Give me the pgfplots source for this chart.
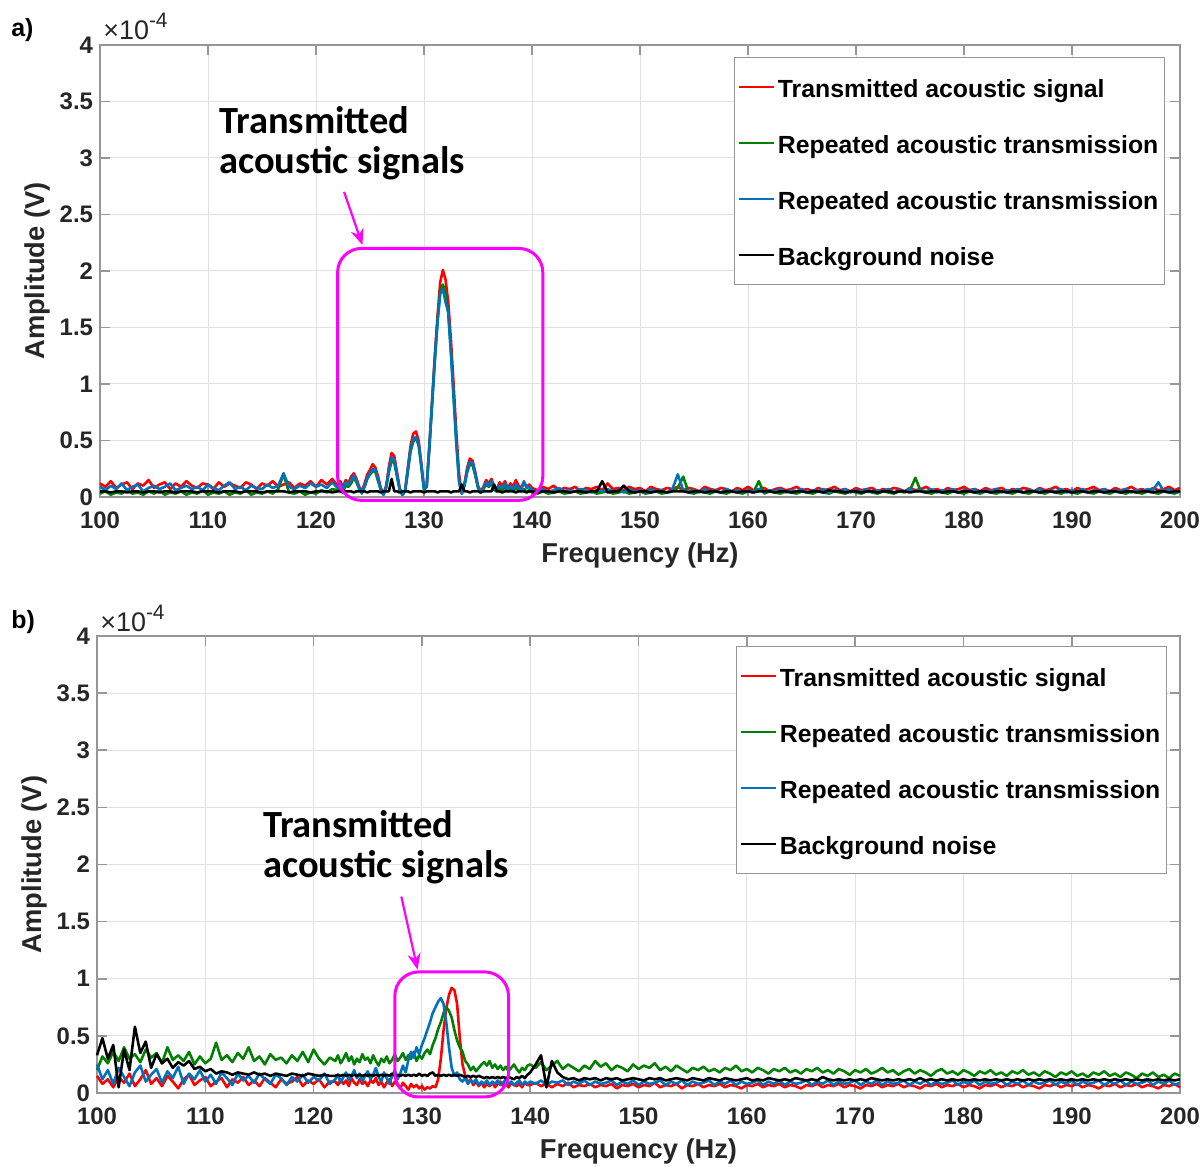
\documentclass[border=0pt]{standalone}
\usepackage{pgfplots}
\usepackage{pgfplotstable}
\pgfplotsset{compat=1.18}
\usepackage{fontspec}
\setmainfont{Liberation Sans}
\newfontfamily\calibri{Carlito}
\usetikzlibrary{arrows.meta}

\definecolor{mred}{RGB}{255,0,0}
\definecolor{mgreen}{RGB}{0,128,0}
\definecolor{mblue}{RGB}{0,114,189}
\definecolor{axgray}{RGB}{150,150,150}
\definecolor{gridgray}{RGB}{226,226,226}
\definecolor{tickcol}{RGB}{38,38,38}
\definecolor{annmag}{RGB}{255,0,255}

\pgfplotstableread{
x r g b k
100.0 0.12 0.03 0.09 0.05
100.5 0.09 0.05 0.06 0.05
101.0 0.14 0.02 0.10 0.04
101.5 0.08 0.04 0.07 0.05
102.0 0.11 0.03 0.12 0.05
102.5 0.13 0.06 0.06 0.04
103.0 0.07 0.03 0.09 0.05
103.5 0.12 0.04 0.11 0.05
104.0 0.10 0.02 0.05 0.04
104.5 0.15 0.05 0.08 0.05
105.0 0.08 0.03 0.10 0.05
105.5 0.11 0.06 0.07 0.04
106.0 0.13 0.02 0.09 0.05
106.5 0.07 0.04 0.12 0.05
107.0 0.12 0.03 0.06 0.04
107.5 0.09 0.05 0.08 0.05
108.0 0.14 0.02 0.10 0.05
108.5 0.10 0.04 0.07 0.05
109.0 0.08 0.03 0.09 0.04
109.5 0.12 0.06 0.06 0.05
110.0 0.11 0.02 0.11 0.05
110.5 0.07 0.04 0.08 0.05
111.0 0.13 0.03 0.06 0.04
111.5 0.09 0.05 0.10 0.05
112.0 0.12 0.02 0.13 0.05
112.5 0.10 0.04 0.07 0.05
113.0 0.08 0.03 0.09 0.04
113.5 0.13 0.06 0.06 0.05
114.0 0.11 0.02 0.10 0.05
114.5 0.07 0.04 0.08 0.05
115.0 0.12 0.03 0.07 0.04
115.5 0.10 0.05 0.11 0.05
116.0 0.14 0.03 0.08 0.05
116.5 0.09 0.07 0.10 0.05
117.0 0.11 0.20 0.21 0.05
117.5 0.13 0.04 0.09 0.04
118.0 0.08 0.03 0.07 0.05
118.5 0.12 0.05 0.10 0.05
119.0 0.10 0.02 0.08 0.05
119.5 0.14 0.04 0.12 0.04
120.0 0.09 0.03 0.09 0.05
120.5 0.15 0.06 0.11 0.05
121.0 0.11 0.04 0.08 0.05
121.5 0.16 0.07 0.13 0.04
122.00 0.10 0.06 0.08 0.05
122.25 0.14 0.08 0.12 0.05
122.50 0.09 0.05 0.07 0.04
122.75 0.15 0.10 0.13 0.05
123.00 0.12 0.09 0.11 0.05
123.25 0.18 0.12 0.15 0.05
123.50 0.21 0.17 0.19 0.04
123.75 0.16 0.13 0.14 0.05
124.00 0.09 0.07 0.08 0.05
124.25 0.05 0.04 0.03 0.05
124.50 0.12 0.09 0.10 0.05
124.75 0.20 0.16 0.17 0.04
125.00 0.24 0.20 0.21 0.05
125.25 0.29 0.23 0.25 0.05
125.50 0.26 0.22 0.24 0.05
125.75 0.18 0.14 0.15 0.05
126.00 0.08 0.06 0.07 0.04
126.25 0.03 0.02 0.02 0.05
126.50 0.10 0.08 0.09 0.05
126.75 0.27 0.22 0.24 0.05
127.00 0.39 0.32 0.35 0.16
127.25 0.36 0.30 0.33 0.05
127.50 0.22 0.18 0.20 0.05
127.75 0.08 0.06 0.07 0.04
128.00 0.02 0.02 0.02 0.05
128.25 0.06 0.05 0.05 0.05
128.50 0.26 0.22 0.24 0.05
128.75 0.45 0.40 0.42 0.04
129.00 0.56 0.49 0.51 0.05
129.25 0.58 0.52 0.53 0.05
129.50 0.50 0.46 0.47 0.05
129.75 0.30 0.27 0.28 0.05
130.00 0.08 0.06 0.07 0.04
130.25 0.10 0.09 0.10 0.05
130.50 0.45 0.44 0.46 0.05
130.75 0.85 0.82 0.84 0.05
131.00 1.25 1.20 1.22 0.05
131.25 1.60 1.55 1.55 0.04
131.50 1.90 1.82 1.80 0.05
131.75 2.01 1.88 1.84 0.05
132.00 1.92 1.80 1.72 0.05
132.25 1.72 1.62 1.64 0.05
132.50 1.38 1.28 1.26 0.04
132.75 0.98 0.88 0.86 0.05
133.00 0.56 0.48 0.46 0.05
133.25 0.20 0.14 0.13 0.05
133.50 0.03 0.03 0.03 0.11
133.75 0.12 0.10 0.11 0.05
134.00 0.26 0.22 0.24 0.05
134.25 0.34 0.29 0.31 0.04
134.50 0.32 0.28 0.30 0.05
134.75 0.22 0.19 0.20 0.05
135.00 0.10 0.08 0.09 0.05
135.25 0.05 0.04 0.04 0.04
135.50 0.09 0.07 0.08 0.05
135.75 0.15 0.11 0.13 0.05
136.00 0.12 0.09 0.10 0.05
136.25 0.16 0.12 0.14 0.05
136.50 0.09 0.06 0.08 0.11
136.75 0.07 0.05 0.06 0.05
137.00 0.13 0.08 0.10 0.05
137.25 0.10 0.06 0.08 0.04
137.50 0.14 0.09 0.12 0.05
137.75 0.08 0.05 0.07 0.05
138.00 0.12 0.07 0.10 0.05
138.25 0.09 0.05 0.07 0.05
138.50 0.15 0.08 0.11 0.04
138.75 0.10 0.06 0.08 0.05
139.00 0.08 0.05 0.06 0.05
139.25 0.13 0.07 0.14 0.05
139.50 0.09 0.05 0.08 0.04
139.75 0.11 0.06 0.09 0.05
140.0 0.08 0.04 0.06 0.05
140.5 0.06 0.03 0.05 0.04
141.0 0.09 0.05 0.07 0.05
141.5 0.07 0.03 0.04 0.05
142.0 0.10 0.04 0.06 0.04
142.5 0.06 0.05 0.08 0.05
143.0 0.08 0.03 0.05 0.05
143.5 0.07 0.04 0.06 0.04
144.0 0.09 0.05 0.05 0.05
144.5 0.05 0.03 0.07 0.05
145.0 0.08 0.04 0.06 0.04
145.5 0.07 0.05 0.04 0.05
146.0 0.09 0.03 0.06 0.05
146.5 0.06 0.04 0.05 0.14
147.0 0.12 0.05 0.07 0.04
147.5 0.07 0.03 0.05 0.05
148.0 0.08 0.04 0.06 0.05
148.5 0.06 0.05 0.04 0.10
149.0 0.09 0.03 0.07 0.05
149.5 0.07 0.04 0.05 0.04
150.0 0.08 0.05 0.06 0.05
150.5 0.05 0.03 0.04 0.05
151.0 0.09 0.04 0.07 0.04
151.5 0.07 0.05 0.05 0.05
152.0 0.06 0.03 0.06 0.05
152.5 0.08 0.04 0.04 0.04
153.0 0.07 0.05 0.07 0.05
153.5 0.09 0.08 0.20 0.05
154.0 0.06 0.18 0.06 0.05
154.5 0.08 0.04 0.05 0.04
155.0 0.07 0.03 0.06 0.05
155.5 0.05 0.05 0.04 0.05
156.0 0.09 0.04 0.07 0.04
156.5 0.07 0.03 0.05 0.05
157.0 0.06 0.05 0.06 0.05
157.5 0.08 0.04 0.04 0.04
158.0 0.07 0.03 0.07 0.05
158.5 0.05 0.05 0.05 0.05
159.0 0.08 0.04 0.06 0.04
159.5 0.06 0.03 0.04 0.05
160.0 0.09 0.05 0.06 0.05
160.5 0.06 0.04 0.05 0.04
161.0 0.07 0.14 0.07 0.05
161.5 0.08 0.03 0.04 0.05
162.0 0.05 0.05 0.06 0.05
162.5 0.07 0.04 0.05 0.04
163.0 0.08 0.03 0.07 0.05
163.5 0.06 0.05 0.04 0.05
164.0 0.07 0.04 0.06 0.04
164.5 0.09 0.03 0.05 0.05
165.0 0.06 0.05 0.07 0.05
165.5 0.07 0.04 0.04 0.04
166.0 0.05 0.03 0.06 0.05
166.5 0.08 0.05 0.05 0.05
167.0 0.06 0.04 0.07 0.04
167.5 0.07 0.03 0.04 0.06
168.0 0.09 0.05 0.06 0.05
168.5 0.06 0.04 0.05 0.05
169.0 0.07 0.03 0.07 0.04
169.5 0.05 0.05 0.04 0.05
170.0 0.08 0.04 0.06 0.05
170.5 0.06 0.03 0.05 0.04
171.0 0.07 0.05 0.07 0.05
171.5 0.08 0.04 0.04 0.05
172.0 0.05 0.03 0.06 0.04
172.5 0.07 0.05 0.05 0.05
173.0 0.06 0.04 0.07 0.05
173.5 0.08 0.03 0.04 0.04
174.0 0.07 0.05 0.06 0.05
174.5 0.05 0.04 0.05 0.05
175.0 0.08 0.06 0.07 0.04
175.5 0.06 0.17 0.05 0.05
176.0 0.07 0.05 0.06 0.05
176.5 0.09 0.04 0.05 0.04
177.0 0.06 0.03 0.07 0.05
177.5 0.07 0.05 0.04 0.05
178.0 0.05 0.04 0.06 0.04
178.5 0.08 0.03 0.05 0.05
179.0 0.06 0.05 0.07 0.05
179.5 0.07 0.04 0.04 0.04
180.0 0.09 0.03 0.06 0.05
180.5 0.06 0.05 0.05 0.05
181.0 0.07 0.04 0.07 0.04
181.5 0.05 0.03 0.04 0.05
182.0 0.08 0.05 0.06 0.05
182.5 0.06 0.04 0.05 0.04
183.0 0.07 0.03 0.07 0.05
183.5 0.08 0.05 0.04 0.05
184.0 0.05 0.04 0.06 0.04
184.5 0.07 0.03 0.05 0.05
185.0 0.06 0.05 0.07 0.05
185.5 0.08 0.04 0.04 0.04
186.0 0.07 0.03 0.06 0.05
186.5 0.05 0.05 0.05 0.05
187.0 0.08 0.04 0.07 0.04
187.5 0.06 0.03 0.04 0.05
188.0 0.07 0.05 0.06 0.05
188.5 0.09 0.04 0.05 0.04
189.0 0.06 0.03 0.07 0.05
189.5 0.07 0.05 0.04 0.05
190.0 0.05 0.04 0.06 0.04
190.5 0.08 0.03 0.05 0.05
191.0 0.06 0.05 0.07 0.05
191.5 0.07 0.04 0.04 0.04
192.0 0.09 0.03 0.06 0.05
192.5 0.06 0.05 0.05 0.05
193.0 0.07 0.04 0.07 0.04
193.5 0.05 0.03 0.04 0.05
194.0 0.08 0.05 0.06 0.05
194.5 0.06 0.04 0.05 0.04
195.0 0.07 0.03 0.07 0.05
195.5 0.09 0.05 0.04 0.05
196.0 0.06 0.04 0.06 0.04
196.5 0.07 0.03 0.05 0.05
197.0 0.05 0.05 0.07 0.05
197.5 0.08 0.04 0.06 0.04
198.0 0.06 0.03 0.13 0.05
198.5 0.07 0.05 0.05 0.05
199.0 0.09 0.04 0.07 0.04
199.5 0.06 0.03 0.04 0.05
200.0 0.08 0.05 0.06 0.05
}\tabA

\pgfplotstableread{
x r g b k
100.0 0.15 0.20 0.25 0.33
100.5 0.08 0.32 0.12 0.48
101.0 0.12 0.26 0.20 0.30
101.5 0.05 0.36 0.08 0.42
102.0 0.14 0.28 0.22 0.05
102.5 0.09 0.40 0.14 0.38
103.0 0.17 0.30 0.06 0.20
103.5 0.06 0.34 0.18 0.58
104.0 0.12 0.27 0.24 0.35
104.5 0.20 0.38 0.10 0.45
105.0 0.08 0.31 0.16 0.22
105.5 0.13 0.35 0.21 0.34
106.0 0.06 0.26 0.09 0.26
106.5 0.15 0.40 0.19 0.30
107.0 0.10 0.29 0.13 0.22
107.5 0.04 0.33 0.23 0.27
108.0 0.12 0.28 0.08 0.24
108.5 0.16 0.36 0.17 0.28
109.0 0.07 0.25 0.12 0.21
109.5 0.11 0.32 0.20 0.23
110.0 0.14 0.26 0.10 0.19
110.5 0.06 0.30 0.16 0.21
111.0 0.10 0.44 0.08 0.17
111.5 0.13 0.29 0.18 0.19
112.0 0.05 0.33 0.13 0.18
112.5 0.12 0.27 0.07 0.16
113.0 0.09 0.35 0.17 0.18
113.5 0.14 0.30 0.11 0.17
114.0 0.07 0.40 0.15 0.16
114.5 0.11 0.28 0.09 0.18
115.0 0.06 0.32 0.17 0.16
115.5 0.13 0.25 0.12 0.17
116.0 0.09 0.34 0.08 0.15
116.5 0.05 0.29 0.16 0.17
117.0 0.12 0.31 0.13 0.16
117.5 0.08 0.26 0.07 0.15
118.0 0.10 0.33 0.14 0.17
118.5 0.14 0.28 0.10 0.16
119.0 0.06 0.36 0.16 0.15
119.5 0.11 0.27 0.09 0.17
120.0 0.08 0.38 0.14 0.16
120.5 0.12 0.30 0.11 0.15
121.0 0.05 0.25 0.17 0.16
121.5 0.10 0.31 0.08 0.15
122.00 0.10 0.28 0.12 0.15
122.25 0.07 0.33 0.16 0.16
122.50 0.12 0.26 0.09 0.15
122.75 0.08 0.30 0.14 0.16
123.00 0.11 0.35 0.18 0.15
123.25 0.06 0.28 0.11 0.16
123.50 0.13 0.32 0.15 0.15
123.75 0.09 0.25 0.20 0.16
124.00 0.07 0.30 0.13 0.15
124.25 0.12 0.27 0.17 0.16
124.50 0.08 0.34 0.10 0.15
124.75 0.10 0.29 0.15 0.16
125.00 0.06 0.31 0.19 0.15
125.25 0.11 0.26 0.12 0.16
125.50 0.09 0.33 0.16 0.15
125.75 0.13 0.28 0.22 0.16
126.00 0.07 0.24 0.14 0.15
126.25 0.10 0.30 0.10 0.16
126.50 0.05 0.27 0.18 0.15
126.75 0.09 0.32 0.13 0.16
127.00 0.12 0.26 0.08 0.15
127.25 0.06 0.29 0.15 0.17
127.50 0.10 0.34 0.20 0.15
127.75 0.07 0.28 0.12 0.16
128.00 0.04 0.31 0.17 0.15
128.25 0.09 0.35 0.24 0.16
128.50 0.06 0.29 0.18 0.15
128.75 0.03 0.33 0.29 0.16
129.00 0.08 0.30 0.36 0.15
129.25 0.05 0.36 0.31 0.16
129.50 0.07 0.28 0.40 0.15
129.75 0.04 0.33 0.34 0.17
130.00 0.06 0.30 0.42 0.15
130.25 0.03 0.35 0.48 0.16
130.50 0.05 0.38 0.55 0.15
130.75 0.04 0.34 0.62 0.17
131.00 0.06 0.42 0.70 0.18
131.25 0.05 0.48 0.75 0.15
131.50 0.12 0.56 0.80 0.16
131.75 0.30 0.62 0.83 0.15
132.00 0.55 0.70 0.78 0.16
132.25 0.74 0.75 0.62 0.15
132.50 0.86 0.72 0.40 0.16
132.75 0.92 0.66 0.22 0.15
133.00 0.90 0.55 0.15 0.16
133.25 0.78 0.46 0.18 0.15
133.50 0.48 0.40 0.12 0.16
133.75 0.25 0.36 0.10 0.15
134.00 0.15 0.28 0.13 0.14
134.25 0.09 0.25 0.08 0.15
134.50 0.12 0.20 0.11 0.14
134.75 0.07 0.23 0.09 0.15
135.00 0.10 0.19 0.12 0.14
135.25 0.06 0.22 0.07 0.15
135.50 0.09 0.25 0.10 0.14
135.75 0.05 0.27 0.08 0.13
136.00 0.08 0.24 0.11 0.14
136.25 0.06 0.28 0.07 0.13
136.50 0.09 0.22 0.10 0.14
136.75 0.05 0.25 0.08 0.13
137.00 0.08 0.21 0.11 0.14
137.25 0.10 0.24 0.07 0.13
137.50 0.06 0.20 0.09 0.14
137.75 0.08 0.23 0.12 0.13
138.00 0.05 0.19 0.08 0.14
138.25 0.09 0.22 0.10 0.13
138.50 0.07 0.25 0.07 0.12
138.75 0.06 0.21 0.09 0.14
139.00 0.08 0.18 0.11 0.13
139.25 0.05 0.22 0.07 0.15
139.50 0.09 0.20 0.10 0.13
139.75 0.07 0.24 0.08 0.16
140.0 0.07 0.25 0.10 0.18
140.5 0.09 0.22 0.08 0.25
141.0 0.06 0.27 0.11 0.33
141.5 0.08 0.20 0.07 0.05
142.0 0.05 0.24 0.10 0.28
142.5 0.08 0.28 0.09 0.18
143.0 0.06 0.21 0.11 0.14
143.5 0.09 0.25 0.07 0.12
144.0 0.05 0.22 0.10 0.13
144.5 0.07 0.19 0.08 0.11
145.0 0.06 0.24 0.11 0.13
145.5 0.08 0.21 0.07 0.12
146.0 0.05 0.28 0.10 0.13
146.5 0.07 0.23 0.08 0.11
147.0 0.06 0.26 0.09 0.13
147.5 0.08 0.20 0.11 0.12
148.0 0.04 0.24 0.07 0.13
148.5 0.07 0.22 0.10 0.11
149.0 0.06 0.19 0.08 0.12
149.5 0.08 0.25 0.11 0.13
150.0 0.05 0.21 0.07 0.12
150.5 0.07 0.24 0.10 0.11
151.0 0.06 0.22 0.08 0.13
151.5 0.09 0.26 0.09 0.12
152.0 0.05 0.20 0.11 0.13
152.5 0.07 0.23 0.07 0.11
153.0 0.06 0.19 0.10 0.12
153.5 0.08 0.24 0.08 0.13
154.0 0.04 0.21 0.11 0.12
154.5 0.07 0.18 0.07 0.11
155.0 0.06 0.22 0.10 0.13
155.5 0.08 0.20 0.08 0.12
156.0 0.05 0.23 0.09 0.11
156.5 0.07 0.19 0.11 0.13
157.0 0.06 0.21 0.07 0.12
157.5 0.08 0.18 0.10 0.11
158.0 0.05 0.22 0.08 0.13
158.5 0.07 0.20 0.11 0.12
159.0 0.06 0.24 0.07 0.11
159.5 0.04 0.19 0.10 0.12
160.0 0.07 0.21 0.08 0.13
160.5 0.06 0.18 0.09 0.11
161.0 0.08 0.22 0.11 0.12
161.5 0.05 0.20 0.07 0.11
162.0 0.07 0.17 0.10 0.13
162.5 0.06 0.21 0.08 0.12
163.0 0.08 0.19 0.11 0.11
163.5 0.05 0.22 0.07 0.12
164.0 0.07 0.18 0.10 0.11
164.5 0.06 0.20 0.08 0.13
165.0 0.04 0.17 0.09 0.12
165.5 0.07 0.21 0.11 0.11
166.0 0.06 0.19 0.07 0.12
166.5 0.08 0.22 0.10 0.11
167.0 0.05 0.18 0.08 0.14
167.5 0.07 0.20 0.11 0.12
168.0 0.06 0.17 0.07 0.11
168.5 0.08 0.21 0.10 0.12
169.0 0.05 0.19 0.08 0.11
169.5 0.07 0.16 0.09 0.12
170.0 0.06 0.20 0.11 0.11
170.5 0.04 0.18 0.07 0.12
171.0 0.07 0.21 0.10 0.11
171.5 0.06 0.17 0.08 0.13
172.0 0.08 0.19 0.11 0.12
172.5 0.05 0.22 0.07 0.11
173.0 0.07 0.18 0.10 0.12
173.5 0.06 0.20 0.08 0.11
174.0 0.08 0.16 0.09 0.12
174.5 0.05 0.19 0.11 0.11
175.0 0.07 0.21 0.07 0.12
175.5 0.06 0.17 0.10 0.11
176.0 0.04 0.20 0.08 0.13
176.5 0.07 0.18 0.11 0.11
177.0 0.06 0.15 0.07 0.12
177.5 0.08 0.19 0.10 0.11
178.0 0.05 0.21 0.08 0.12
178.5 0.07 0.17 0.09 0.11
179.0 0.06 0.19 0.11 0.12
179.5 0.08 0.16 0.07 0.11
180.0 0.05 0.20 0.10 0.12
180.5 0.07 0.18 0.08 0.11
181.0 0.06 0.15 0.11 0.12
181.5 0.04 0.19 0.07 0.11
182.0 0.07 0.17 0.10 0.12
182.5 0.06 0.20 0.08 0.11
183.0 0.08 0.16 0.09 0.12
183.5 0.05 0.18 0.11 0.11
184.0 0.07 0.15 0.07 0.12
184.5 0.06 0.19 0.10 0.11
185.0 0.08 0.17 0.08 0.12
185.5 0.05 0.20 0.11 0.11
186.0 0.07 0.16 0.07 0.12
186.5 0.06 0.18 0.10 0.11
187.0 0.04 0.15 0.08 0.12
187.5 0.07 0.19 0.09 0.11
188.0 0.06 0.17 0.11 0.12
188.5 0.08 0.14 0.07 0.11
189.0 0.05 0.18 0.10 0.12
189.5 0.07 0.16 0.08 0.11
190.0 0.06 0.19 0.11 0.12
190.5 0.08 0.15 0.07 0.11
191.0 0.05 0.17 0.10 0.12
191.5 0.07 0.14 0.08 0.11
192.0 0.06 0.18 0.09 0.12
192.5 0.04 0.16 0.11 0.11
193.0 0.07 0.19 0.07 0.12
193.5 0.06 0.15 0.10 0.11
194.0 0.08 0.17 0.08 0.12
194.5 0.05 0.14 0.11 0.11
195.0 0.07 0.18 0.07 0.12
195.5 0.06 0.16 0.10 0.11
196.0 0.08 0.13 0.08 0.12
196.5 0.05 0.17 0.09 0.11
197.0 0.07 0.15 0.11 0.12
197.5 0.06 0.18 0.07 0.11
198.0 0.04 0.14 0.10 0.12
198.5 0.07 0.16 0.08 0.11
199.0 0.06 0.13 0.11 0.12
199.5 0.08 0.17 0.07 0.11
200.0 0.05 0.15 0.09 0.12
}\tabB

\pgfplotsset{
  panel/.style={
    scale only axis,
    anchor=south west,
    xmin=100, xmax=200, ymin=0, ymax=4,
    clip=false,
    xtick={100,110,...,200},
    ytick={0,0.5,1,1.5,2,2.5,3,3.5,4},
    yticklabels={0,0.5,1,1.5,2,2.5,3,3.5,4},
    /pgf/number format/assume math mode=true,
    tick label style={font=\fontsize{12}{14}\selectfont\bfseries, text=tickcol},
    xticklabel shift=4bp,
    grid=major,
    major grid style={gridgray, line width=0.5bp},
    axis line style={axgray, line width=0.8bp},
    tick style={axgray, line width=0.8bp},
    major tick length=5bp,
    tick align=inside,
    xlabel={Frequency (Hz)},
    ylabel={Amplitude (V)},
    label style={font=\fontsize{13.7}{16}\selectfont\bfseries, text=tickcol},
    xlabel style={yshift=0bp},
    ylabel style={yshift=-2bp},
    legend cell align=left,
    legend image code/.code={\draw[##1, line width=1.2bp] (0bp,0bp) -- (17.5bp,0bp);},
    legend style={
      draw=axgray, line width=0.6bp, fill=white,
      font=\fontsize{12.45}{14}\selectfont\bfseries,
      inner xsep=1.5bp, inner ysep=7.5bp,
      row sep=13.5bp,
      nodes={inner sep=1.5bp, text height=11bp, text depth=0.5bp},
    },
    legend entries={Transmitted acoustic signal, Repeated acoustic transmission, Repeated acoustic transmission, Background noise},
  },
  sig/.style={line width=1.3bp, line join=round},
}

\begin{document}
\begin{tikzpicture}
\useasboundingbox (0,0) rectangle (601bp,583.5bp);

\node[anchor=west, inner sep=0, font=\fontsize{12.5}{14}\selectfont\bfseries] at (5.5bp,568.5bp) {a)};
\node[anchor=west, inner sep=0, font=\fontsize{12.5}{14}\selectfont\bfseries] at (5.5bp,272.5bp) {b)};

% Panel a
\begin{axis}[panel, at={(50bp,335bp)}, width=540bp, height=226bp,
  legend style={at={(axis description cs:1,1)}, anchor=north east, xshift=-7.5bp, yshift=-6bp}]
\addplot[sig, mred] table[x=x, y=r] {\tabA};
\addplot[sig, mgreen] table[x=x, y=g] {\tabA};
\addplot[sig, mblue] table[x=x, y=b] {\tabA};
\addplot[sig, black] table[x=x, y=k] {\tabA};
\node[anchor=base west, inner sep=0, font=\fontsize{13.5}{15}\selectfont, text=tickcol] at (rel axis cs:0,1) [xshift=1.5bp, yshift=2.5bp] {×10\raisebox{6bp}{\fontsize{10.5}{12}\selectfont -4}};
\draw[annmag, line width=1.5bp, rounded corners=12bp] (axis cs:122,-0.03) rectangle (axis cs:141,2.2);
\draw[annmag, line width=1.1bp, -{Stealth[length=8bp, width=6.5bp]}] (axis cs:122.6,2.70) -- (axis cs:124.3,2.23);
\node[anchor=west, inner sep=0, align=left, font=\calibri\bfseries\fontsize{19.3}{20}\selectfont] at (axis cs:111.0,3.13) {Transmitted\\acoustic signals};
\end{axis}

% Panel b
\begin{axis}[panel, at={(48.5bp,37bp)}, width=541.5bp, height=228.5bp,
  legend style={at={(axis description cs:1,1)}, anchor=north east, xshift=-6.5bp, yshift=-5bp}]
\addplot[sig, mred] table[x=x, y=r] {\tabB};
\addplot[sig, mgreen] table[x=x, y=g] {\tabB};
\addplot[sig, mblue] table[x=x, y=b] {\tabB};
\addplot[sig, black] table[x=x, y=k] {\tabB};
\node[anchor=base west, inner sep=0, font=\fontsize{13.5}{15}\selectfont, text=tickcol] at (rel axis cs:0,1) [xshift=1.5bp, yshift=2.5bp] {×10\raisebox{6bp}{\fontsize{10.5}{12}\selectfont -4}};
\draw[annmag, line width=1.5bp, rounded corners=12bp] (axis cs:127.5,-0.035) rectangle (axis cs:138.0,1.06);
\draw[annmag, line width=1.1bp, -{Stealth[length=8bp, width=6.5bp]}] (axis cs:128.1,1.72) -- (axis cs:129.6,1.08);
\node[anchor=west, inner sep=0, align=left, font=\calibri\bfseries\fontsize{19.3}{20}\selectfont] at (axis cs:115.3,2.15) {Transmitted\\acoustic signals};
\end{axis}
\end{tikzpicture}
\end{document}
